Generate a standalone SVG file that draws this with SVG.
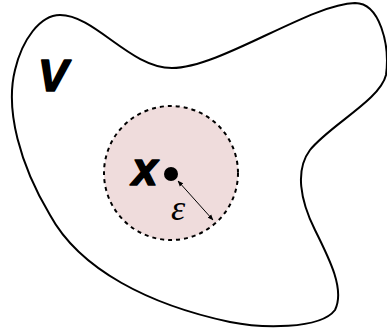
<svg xmlns="http://www.w3.org/2000/svg" width="387" height="332" viewBox="0 0 387 332">
<style>
.lbl{font-family:"Liberation Sans",Arial,sans-serif;font-weight:bold;font-style:italic;fill:#000;stroke:#000;stroke-width:1.6;stroke-linejoin:round}
.eps{font-family:"Liberation Serif","Times New Roman",serif;font-style:italic;fill:#000}
</style>
<defs>
<marker id="ah" viewBox="0 0 10 10" refX="9" refY="5" markerWidth="6" markerHeight="6" orient="auto-start-reverse" markerUnits="userSpaceOnUse">
<path d="M0,1 L10,5 L0,9 z" fill="#000"/>
</marker>
</defs>
<rect width="387" height="332" fill="#fff"/>
<g id="region-V">
<path d="M60,15 C95,15 130,68 172,68 C220,68 310,4 355,3 C380,3 390,45 386,75 C380,100 330,125 310,150 C295,170 300,200 315,230 C330,260 345,290 335,310 C320,330 260,328 230,322 C150,305 80,270 50,215 C20,165 5,110 15,70 C22,40 40,15 60,15 Z" fill="none" stroke="#000" stroke-width="2"/>
<text class="lbl" x="38" y="91" font-size="45">V</text>
</g>
<g id="ball">
<circle cx="171" cy="173" r="67" fill="#efdcdc" stroke="#000" stroke-width="2" stroke-dasharray="4,4"/>
</g>
<g id="point-x">
<circle cx="171" cy="174" r="7" fill="#000"/>
<text class="lbl" x="132" y="184.5" font-size="46">x</text>
</g>
<g id="connectors">
<line x1="178" y1="181" x2="213" y2="220" stroke="#000" stroke-width="1" marker-start="url(#ah)" marker-end="url(#ah)"/>
</g>
<text class="eps" x="171" y="220" font-size="36">ε</text>
</svg>
